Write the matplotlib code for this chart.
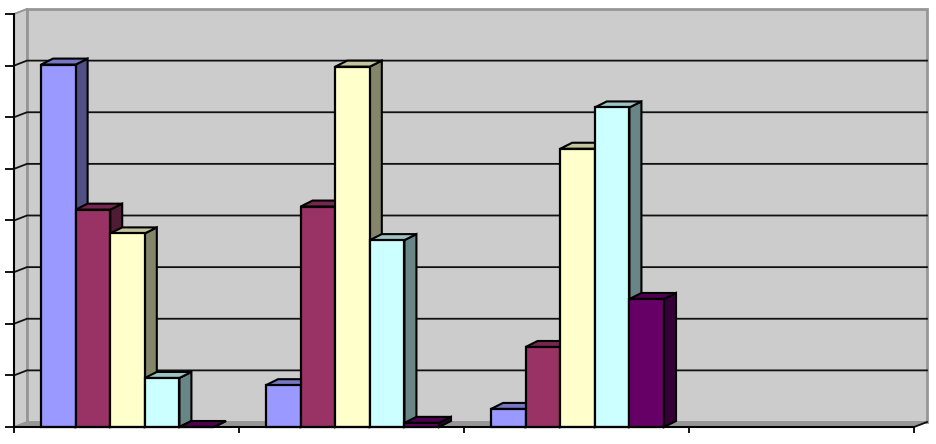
#!/usr/bin/env python3
"""
Excel style 3D clustered columns, drawn on plain 2D axes
"""
from matplotlib import pyplot as plt
from matplotlib.colors import to_rgb

# values, one list per series, the last category is empty
series_a = [7.02, 0.81, 0.35, None]
series_b = [4.21, 4.27, 1.55, None]
series_c = [3.75, 6.98, 5.39, None]
series_d = [0.95, 3.62, 6.19, None]
series_e = [0.0, 0.08, 2.48, None]
series = [series_a, series_b, series_c, series_d, series_e]
colors = ["#9999FF", "#993366", "#FFFFCC", "#CCFFFF", "#660066"]

n_categories = 4
y_max = 8

W, H = 936, 444
left, right, top, bottom = 14, 914, 14, 427  # front plane, pixels
depth_px = (13, 5)
bar_depth_px = (12, 6)

bar_w = 0.1538
gap = 0.12


def shade(color, factor):
    return tuple(c * factor for c in to_rgb(color))


fig = plt.figure(figsize=(W / 100, H / 100), dpi=100)
ax = fig.add_axes([left / W, 1 - bottom / H, (right - left) / W, (bottom - top) / H])
ax.set_xlim(0, n_categories)
ax.set_ylim(0, y_max)

# depth of the box in data units
dx = depth_px[0] / (right - left) * n_categories
dy = depth_px[1] / (bottom - top) * y_max
bdx = bar_depth_px[0] / (right - left) * n_categories
bdy = bar_depth_px[1] / (bottom - top) * y_max
wall = "#CCCCCC"
wall_edge = "#969696"

# walls and floor
ax.fill([0, dx, dx, 0], [0, dy, y_max + dy, y_max], fc=wall, ec=wall_edge, lw=1.2,
        zorder=1, clip_on=False)
ax.fill([dx, n_categories + dx, n_categories + dx, dx], [dy, dy, y_max + dy, y_max + dy],
        fc=wall, ec=wall_edge, lw=2, zorder=1, clip_on=False)
ax.fill([0, dx, n_categories + dx, n_categories], [0, dy, dy, 0], fc=wall_edge, ec=wall_edge,
        lw=1, zorder=2, clip_on=False)

# gridlines run along the side wall and the back wall
for level in range(1, y_max):
    ax.plot([0, dx, n_categories + dx], [level, level + dy, level + dy], color="#111111",
            lw=1.3, zorder=3, clip_on=False, solid_joinstyle="miter")
ax.plot([0, dx], [y_max, y_max + dy], color=wall_edge, lw=1.2, zorder=3, clip_on=False)
ax.plot([n_categories, n_categories + dx], [0, dy], color="#111111", lw=1.3, zorder=3,
        clip_on=False)

# columns, left to right so each one covers the side of the one before
z = 4
for cat in range(n_categories):
    for i, (vals, col) in enumerate(zip(series, colors)):
        v = vals[cat]
        if v is None:
            continue
        x0 = cat + gap + i * bar_w
        x1 = x0 + bar_w
        ax.fill([x1, x1 + bdx, x1 + bdx, x1], [0, bdy, v + bdy, v], fc=shade(col, 0.52), ec="black",
                lw=1.5, zorder=z, clip_on=False)
        ax.fill([x0, x0 + bdx, x1 + bdx, x1], [v, v + bdy, v + bdy, v], fc=shade(col, 0.77),
                ec="black", lw=1.5, zorder=z, clip_on=False)
        ax.bar(x0, v, bar_w, align="edge", color=col, edgecolor="black", lw=1.6, zorder=z + 0.5,
               clip_on=False)
        z += 1

for name in ("top", "right"):
    ax.spines[name].set_visible(False)
for name in ("left", "bottom"):
    ax.spines[name].set_linewidth(1.5)
    ax.spines[name].set_zorder(100)

ax.set_xticks(range(n_categories + 1))
ax.set_yticks(range(y_max + 1))
ax.set_xticklabels([])
ax.set_yticklabels([])
ax.tick_params(axis="x", length=4.5, width=1.3, direction="out")
ax.tick_params(axis="y", length=6.5, width=1.3, direction="out")

fig.savefig("out.png", dpi=100)
